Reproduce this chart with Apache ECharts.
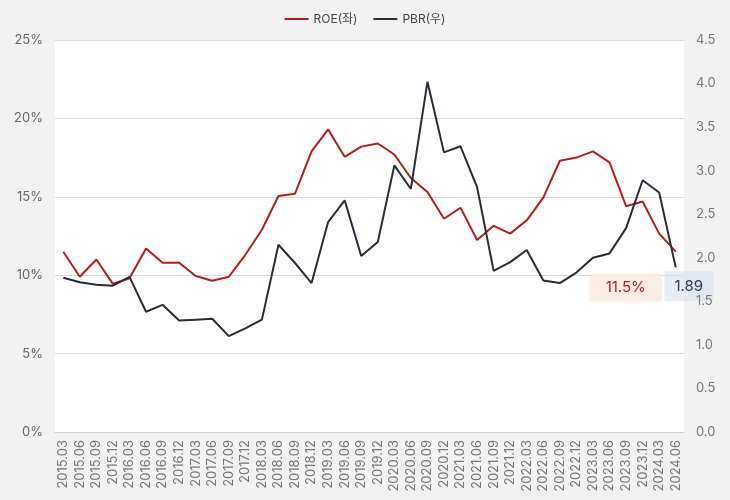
<!DOCTYPE html>
<html><head><meta charset="utf-8">
<script src="https://cdn.jsdelivr.net/npm/echarts@6/dist/echarts.min.js"></script>
<style>html,body{margin:0;padding:0;background:#f2f2f2;}#c{width:730px;height:500px;}</style>
</head><body><div id="c"></div>
<script>
const categories = ["2015.03","2015.06","2015.09","2015.12","2016.03","2016.06","2016.09","2016.12","2017.03","2017.06","2017.09","2017.12","2018.03","2018.06","2018.09","2018.12","2019.03","2019.06","2019.09","2019.12","2020.03","2020.06","2020.09","2020.12","2021.03","2021.06","2021.09","2021.12","2022.03","2022.06","2022.09","2022.12","2023.03","2023.06","2023.09","2023.12","2024.03","2024.06"];
const roe = [11.5,9.9,11.0,9.45,9.8,11.7,10.8,10.8,9.95,9.65,9.9,11.3,12.9,15.05,15.2,17.9,19.3,17.55,18.2,18.4,17.7,16.2,15.3,13.6,14.3,12.25,13.15,12.65,13.5,14.95,17.3,17.5,17.9,17.2,14.4,14.7,12.65,11.5];
const pbr = [1.77,1.72,1.69,1.68,1.78,1.38,1.46,1.28,1.29,1.30,1.10,1.19,1.29,2.15,1.94,1.71,2.41,2.66,2.02,2.18,3.06,2.79,4.02,3.21,3.28,2.81,1.85,1.95,2.09,1.74,1.71,1.83,2.00,2.05,2.34,2.89,2.75,1.89];
const leftTicks = {min:0, max:25, interval:5};
const rightTicks = {min:0, max:4.5, interval:0.5};

const RED = '#b01e1e', DARK = '#262d38';
const FONT = "Inter,'Noto Sans CJK KR',sans-serif";
const chart = echarts.init(document.getElementById('c'));
const last = categories.length - 1;
chart.setOption({
  backgroundColor: '#f2f2f2',
  animation: false,
  textStyle: {fontFamily: FONT},
  legend: {
    top: 8, left: 'center', itemWidth: 24, itemHeight: 2, itemGap: 16,
    icon: 'rect',
    textStyle: {color: '#444', fontSize: 12, fontFamily: FONT},
    data: ['ROE(좌)', 'PBR(우)']
  },
  grid: {left: 55, right: 46, top: 40, bottom: 68, show: true, backgroundColor: '#fff', borderWidth: 0},
  xAxis: {
    type: 'category', data: categories, boundaryGap: true,
    axisLine: {lineStyle: {color: '#d0d0d0'}},
    axisTick: {show: false},
    axisLabel: {rotate: 90, interval: 0, color: '#777', fontSize: 13, margin: 8, fontFamily: FONT}
  },
  yAxis: [{
    type: 'value', min: leftTicks.min, max: leftTicks.max, interval: leftTicks.interval,
    axisLine: {show: false}, axisTick: {show: false},
    axisLabel: {formatter: v => v + '%', color: '#666', fontSize: 13, margin: 12, fontFamily: FONT},
    splitLine: {lineStyle: {color: '#d9d9d9'}}
  }, {
    type: 'value', min: rightTicks.min, max: rightTicks.max, interval: rightTicks.interval,
    axisLine: {show: false}, axisTick: {show: false},
    axisLabel: {formatter: v => v.toFixed(1), color: '#777', fontSize: 13, margin: 12, fontFamily: FONT},
    splitLine: {show: false}, z: 10
  }],
  series: [{
    name: 'ROE(좌)', type: 'line', yAxisIndex: 0, data: roe,
    symbol: 'none', lineStyle: {color: RED, width: 2}, itemStyle: {color: RED},
    markPoint: {
      symbol: 'rect', symbolSize: 0, silent: true,
      data: [{coord: [last, roe[last]], value: roe[last]}],
      label: {show: true, formatter: p => p.value.toFixed(1) + '%', color: RED, fontSize: 15,
        backgroundColor: '#fbede4', padding: [7, 16, 6, 16], offset: [-50, 36], fontFamily: FONT}
    }
  }, {
    name: 'PBR(우)', type: 'line', yAxisIndex: 1, data: pbr,
    symbol: 'none', lineStyle: {color: DARK, width: 2}, itemStyle: {color: DARK},
    markPoint: {
      symbol: 'rect', symbolSize: 0, silent: true,
      data: [{coord: [last, pbr[last]], value: pbr[last]}],
      label: {show: true, formatter: p => p.value.toFixed(2), color: '#2d3a66', fontSize: 15,
        backgroundColor: 'rgba(214,225,242,0.6)', padding: [8, 10, 7, 10], offset: [13, 19], fontFamily: FONT}
    }
  }]
});
</script></body></html>
